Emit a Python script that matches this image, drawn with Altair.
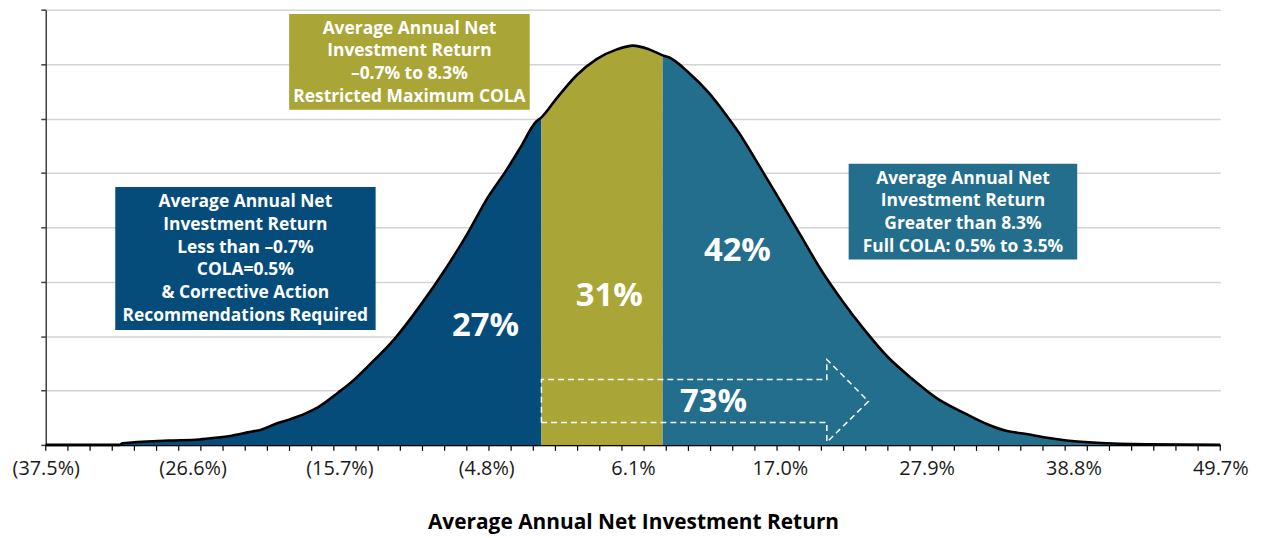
import altair as alt
import pandas as pd

# ---- data ----
RETURN_PCT = [-37.5, -32.0, -31.8, -28.4, -26.1, -24.9, -23.7, -22.5, -21.5, -20.5,
              -19.5, -18.2, -17.3, -15.8, -14.6, -13.6, -11.6, -9.7, -7.7, -6.2,
              -4.7, -3.3, -2.3, -1.1, -0.7, 0.4, 1.9, 3.4, 4.9, 6.1,
              7.3, 8.3, 8.8, 10.2, 11.7, 13.0, 13.9, 15.4, 16.9, 18.6,
              20.1, 21.6, 23.3, 25.0, 26.8, 28.7, 30.9, 32.4, 33.8, 35.3,
              36.6, 38.3, 40.5, 44.2, 49.7]
FREQUENCY = [0.0, 0.0, 0.03, 0.08, 0.10, 0.13, 0.17, 0.23, 0.28, 0.38,
             0.46, 0.58, 0.69, 0.96, 1.20, 1.44, 1.95, 2.56, 3.28, 3.88,
             4.54, 5.05, 5.45, 5.94, 6.02, 6.36, 6.79, 7.09, 7.27, 7.34,
             7.27, 7.16, 7.12, 6.85, 6.48, 6.07, 5.76, 5.16, 4.54, 3.83,
             3.20, 2.66, 2.11, 1.62, 1.22, 0.85, 0.56, 0.38, 0.26, 0.20,
             0.14, 0.08, 0.04, 0.01, 0.0]
BOUND_LOW = -0.7
BOUND_HIGH = 8.3
REGIONS = ["low", "mid", "high"]
REGION_COLORS = ["#054C7B", "#AAA537", "#226E8C"]
LABEL_VALUES = [-37.5, -26.6, -15.7, -4.8, 6.1, 17.0, 27.9, 38.8, 49.7]
MINOR_INTERVALS = 53
SHARE_TEXT = ["27%", "31%", "42%", "73%"]
SHARE_X = [-4.85, 4.33, 13.85, 12.08]
SHARE_Y = [2.19, 2.73, 3.57, 0.79]

FONT = "Open Sans"
W, H = 1182, 438

rows = []
for x, y in zip(RETURN_PCT, FREQUENCY):
    if x <= BOUND_LOW:
        rows.append({"x": x, "y": y, "region": "low"})
    if BOUND_LOW <= x <= BOUND_HIGH:
        rows.append({"x": x, "y": y, "region": "mid"})
    if x >= BOUND_HIGH:
        rows.append({"x": x, "y": y, "region": "high"})
area_df = pd.DataFrame(rows)
curve_df = pd.DataFrame({"x": RETURN_PCT, "y": FREQUENCY})

lo, hi = LABEL_VALUES[0], LABEL_VALUES[-1]
minor_df = pd.DataFrame({"x": [lo + k * (hi - lo) / MINOR_INTERVALS for k in range(0, MINOR_INTERVALS + 1)]})

xscale = alt.Scale(domain=[lo, hi], nice=False, zero=False)
yscale = alt.Scale(domain=[0, 8], nice=False)

xaxis = alt.Axis(
    values=LABEL_VALUES,
    title="Average Annual Net Investment Return",
    labelExpr=("datum.value < 0 ? '(' + format(-datum.value, '.1f') + '%)' : "
               "format(datum.value, '.1f') + '%'"),
    ticks=False,
    domainColor="#000000", domainWidth=1.5,
    grid=False, labelOverlap=False, labelFlush=False, labelBound=False,
    labelFont=FONT, labelFontSize=20, labelColor="#1a1a1a", labelPadding=14,
    titleFont=FONT, titleFontSize=21, titleFontWeight="bold", titleColor="#000000",
    titlePadding=33,
)
yaxis = alt.Axis(
    values=list(range(0, 9)), labels=False, title=None,
    tickSize=5, tickColor="#404040", tickWidth=1.5,
    domainColor="#404040", domainWidth=1.5,
    grid=True, gridColor="#d4d4d4", gridWidth=1.5,
)

areas = alt.Chart(area_df).mark_area(interpolate="monotone").encode(
    x=alt.X("x:Q", scale=xscale, axis=xaxis),
    y=alt.Y("y:Q", scale=yscale, axis=yaxis, stack=None),
    color=alt.Color("region:N", scale=alt.Scale(domain=REGIONS, range=REGION_COLORS), legend=None),
)

curve = alt.Chart(curve_df).mark_line(interpolate="monotone", color="#000000", strokeWidth=2.6).encode(
    x="x:Q", y="y:Q"
)

minor_ticks = alt.Chart(minor_df).mark_rule(color="#000000", strokeWidth=1.2).encode(
    x="x:Q", y=alt.value(H), y2=alt.value(H + 6)
)

# annotation boxes: (x1, x2, y1, y2, colour, lines, first-line centre x, first-line centre y)
BOXES = [
    (-19.43, -1.57, 6.16, 7.92, REGION_COLORS[1],
     ["Average Annual Net", "Investment Return", "\u20130.7% to 8.3%", "Restricted Maximum COLA"],
     -10.50, 7.65),
    (-32.34, -13.01, 2.11, 4.74, REGION_COLORS[0],
     ["Average Annual Net", "Investment Return", "Less than \u20130.7%", "COLA=0.5%",
      "& Corrective Action", "Recommendations Required"],
     -22.68, 4.46),
    (22.11, 39.08, 3.41, 5.17, REGION_COLORS[2],
     ["Average Annual Net", "Investment Return", "Greater than 8.3%", "Full COLA: 0.5% to 3.5%"],
     30.6, 4.89),
]
one = pd.DataFrame({"a": [0]})
layers = [areas]
for x1, x2, y1, y2, col, lines, tx, ty in BOXES:
    layers.append(alt.Chart(one).mark_rect(color=col).encode(
        x=alt.datum(x1), x2=alt.datum(x2), y=alt.datum(y1), y2=alt.datum(y2)))
    layers.append(alt.Chart(one).mark_text(
        text=lines, font=FONT, fontSize=17.5, fontWeight="bold", color="white",
        lineHeight=22.8, align="center", baseline="middle").encode(
        x=alt.datum(tx), y=alt.datum(ty)))

layers.append(curve)
layers.append(minor_ticks)

# dashed arrow outline
ARROW_X = [BOUND_LOW, BOUND_LOW, 20.49, 20.49, 23.58, 20.49, 20.49, BOUND_LOW]
ARROW_Y = [0.41, 1.20, 1.20, 1.57, 0.80, 0.05, 0.41, 0.41]
arrow_df = pd.DataFrame({"x": ARROW_X, "y": ARROW_Y, "i": list(range(len(ARROW_X)))})
layers.append(alt.Chart(arrow_df).mark_line(color="white", strokeDash=[6, 4], strokeWidth=1.5).encode(
    x="x:Q", y="y:Q", order="i:Q"))

share_df = pd.DataFrame({"x": SHARE_X, "y": SHARE_Y, "t": SHARE_TEXT})
layers.append(alt.Chart(share_df).mark_text(
    font=FONT, fontSize=33, fontWeight="bold", color="white", align="center", baseline="middle").encode(
    x="x:Q", y="y:Q", text="t:N"))

chart = alt.layer(*layers).properties(
    width=W, height=H,
    autosize=alt.AutoSizeParams(type="none"),
    padding={"left": 38, "top": 0, "right": 42, "bottom": 92},
).configure_view(stroke=None)

chart.save("out.html", embed_options={"renderer": "svg", "actions": False})
